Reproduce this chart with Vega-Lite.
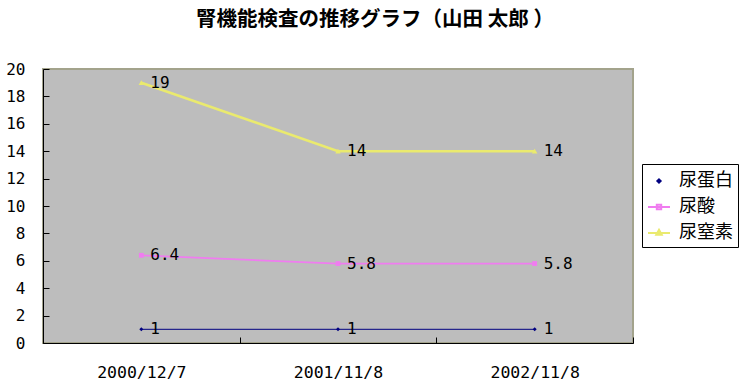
{
  "$schema": "https://vega.github.io/schema/vega-lite/v6.json",
  "autosize": {"type": "none"},
  "width": 590,
  "height": 274,
  "padding": {"left": 43, "top": 69, "right": 117, "bottom": 49},
  "background": "white",
  "title": {
    "text": "腎機能検査の推移グラフ（山田 太郎 ）",
    "font": "Noto Sans CJK JP",
    "fontSize": 20.5,
    "fontWeight": "bold",
    "color": "black",
    "anchor": "middle",
    "frame": "group",
    "dx": 37,
    "offset": 31
  },
  "config": {
    "view": {"fill": "#BDBDBD", "stroke": "#A3A38C", "strokeWidth": 2},
    "axis": {
      "domainColor": "black",
      "tickColor": "black",
      "labelColor": "black",
      "labelFont": "DejaVu Sans Mono",
      "grid": false,
      "title": null
    }
  },
  "data": {
    "values": [
      {"date": "2000/12/7", "s": "尿蛋白", "v": 1},
      {"date": "2001/11/8", "s": "尿蛋白", "v": 1},
      {"date": "2002/11/8", "s": "尿蛋白", "v": 1},
      {"date": "2000/12/7", "s": "尿酸", "v": 6.4},
      {"date": "2001/11/8", "s": "尿酸", "v": 5.8},
      {"date": "2002/11/8", "s": "尿酸", "v": 5.8},
      {"date": "2000/12/7", "s": "尿窒素", "v": 19},
      {"date": "2001/11/8", "s": "尿窒素", "v": 14},
      {"date": "2002/11/8", "s": "尿窒素", "v": 14}
    ]
  },
  "encoding": {
    "x": {
      "field": "date",
      "type": "nominal",
      "sort": null,
      "scale": {"type": "band", "paddingInner": 0, "paddingOuter": 0},
      "axis": {
        "tickBand": "extent",
        "tickSize": -6,
        "labelAngle": 0,
        "labelFontSize": 16.5,
        "labelPadding": 27
      }
    },
    "y": {
      "field": "v",
      "type": "quantitative",
      "scale": {"domain": [0, 20], "nice": false},
      "axis": {
        "values": [0, 2, 4, 6, 8, 10, 12, 14, 16, 18, 20],
        "tickSize": -6,
        "labelFontSize": 16,
        "labelPadding": 24
      }
    }
  },
  "layer": [
    {
      "mark": {"type": "line"},
      "encoding": {
        "color": {"field": "s", "type": "nominal", "scale": {"domain": ["尿蛋白", "尿酸", "尿窒素"], "range": ["#000080", "#F07CF0", "#EAEA6E"]}, "legend": null},
        "strokeWidth": {"field": "s", "type": "nominal", "scale": {"domain": ["尿蛋白", "尿酸", "尿窒素"], "range": [1, 2.5, 2.5]}, "legend": null}
      }
    },
    {
      "mark": {"type": "point", "filled": true, "opacity": 1},
      "encoding": {
        "color": {"field": "s", "type": "nominal", "scale": {"domain": ["尿蛋白", "尿酸", "尿窒素"], "range": ["#000080", "#F07CF0", "#EAEA6E"]}, "legend": null},
        "shape": {"field": "s", "type": "nominal", "scale": {"domain": ["尿蛋白", "尿酸", "尿窒素"], "range": ["diamond", "square", "triangle-up"]}, "legend": null},
        "size": {"field": "s", "type": "nominal", "scale": {"domain": ["尿蛋白", "尿酸", "尿窒素"], "range": [16, 30, 45]}, "legend": null}
      }
    },
    {
      "mark": {"type": "text", "align": "left", "baseline": "middle", "dx": 9, "font": "DejaVu Sans Mono", "fontSize": 16, "color": "black"},
      "encoding": {
        "text": {"field": "v", "type": "quantitative"}
      }
    },
    {
      "transform": [{"filter": "datum.v < 0"}],
      "mark": {"type": "point", "filled": false, "opacity": 1, "strokeWidth": 2},
      "encoding": {
        "color": {
          "field": "s", "type": "nominal",
          "scale": {"domain": ["尿蛋白", "尿酸", "尿窒素"], "range": ["#000080", "#F07CF0", "#EAEA6E"]},
          "legend": {"orient": "none", "legendX": 599, "legendY": 95, "title": null, "strokeColor": "black", "fillColor": "white", "padding": 5, "symbolSize": 484, "symbolStrokeWidth": 2, "labelFont": "Noto Sans CJK JP", "labelFontSize": 18, "labelColor": "black", "rowPadding": 5, "labelOffset": 8}
        },
        "shape": {
          "field": "s", "type": "nominal",
          "scale": {"domain": ["尿蛋白", "尿酸", "尿窒素"], "range": ["M0,-0.15L0.15,0L0,0.15L-0.15,0Z", "M-1,0H1M-0.2,-0.2H0.2V0.2H-0.2Z", "M-1,0H1M0,-0.3L0.25,0.15H-0.25Z"]},
          "legend": {"orient": "none", "legendX": 599, "legendY": 95, "title": null, "strokeColor": "black", "fillColor": "white", "padding": 5, "symbolSize": 484, "symbolStrokeWidth": 2, "labelFont": "Noto Sans CJK JP", "labelFontSize": 18, "labelColor": "black", "rowPadding": 5, "labelOffset": 8}
        }
      }
    }
  ],
  "resolve": {"scale": {"color": "independent", "shape": "independent", "size": "independent"}}
}
